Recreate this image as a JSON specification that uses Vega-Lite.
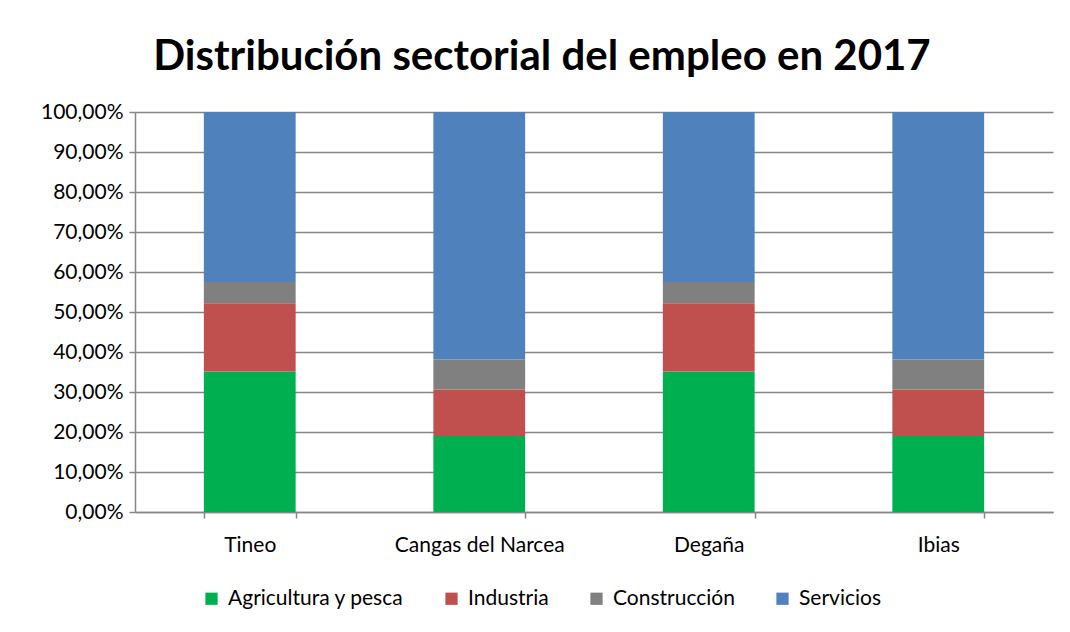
{
  "$schema": "https://vega.github.io/schema/vega-lite/v6.json",
  "width": 918,
  "height": 400,
  "padding": {"left": 40, "top": 36, "right": 17, "bottom": 10},
  "background": "white",
  "title": {
    "text": "Distribución sectorial del empleo en 2017",
    "font": "Lato",
    "fontSize": 42,
    "fontWeight": "bold",
    "color": "#000000",
    "anchor": "middle",
    "dx": -52,
    "offset": 22
  },
  "data": {
    "values": [
      {"zona": "Tineo", "sector": "Agricultura y pesca", "orden": 1, "valor": 0.351},
      {"zona": "Tineo", "sector": "Industria", "orden": 2, "valor": 0.171},
      {"zona": "Tineo", "sector": "Construcción", "orden": 3, "valor": 0.053},
      {"zona": "Tineo", "sector": "Servicios", "orden": 4, "valor": 0.425},
      {"zona": "Cangas del Narcea", "sector": "Agricultura y pesca", "orden": 1, "valor": 0.190},
      {"zona": "Cangas del Narcea", "sector": "Industria", "orden": 2, "valor": 0.116},
      {"zona": "Cangas del Narcea", "sector": "Construcción", "orden": 3, "valor": 0.075},
      {"zona": "Cangas del Narcea", "sector": "Servicios", "orden": 4, "valor": 0.619},
      {"zona": "Degaña", "sector": "Agricultura y pesca", "orden": 1, "valor": 0.351},
      {"zona": "Degaña", "sector": "Industria", "orden": 2, "valor": 0.171},
      {"zona": "Degaña", "sector": "Construcción", "orden": 3, "valor": 0.053},
      {"zona": "Degaña", "sector": "Servicios", "orden": 4, "valor": 0.425},
      {"zona": "Ibias", "sector": "Agricultura y pesca", "orden": 1, "valor": 0.190},
      {"zona": "Ibias", "sector": "Industria", "orden": 2, "valor": 0.116},
      {"zona": "Ibias", "sector": "Construcción", "orden": 3, "valor": 0.075},
      {"zona": "Ibias", "sector": "Servicios", "orden": 4, "valor": 0.619}
    ]
  },
  "mark": {"type": "bar"},
  "encoding": {
    "x": {
      "field": "zona",
      "type": "nominal",
      "sort": ["Tineo", "Cangas del Narcea", "Degaña", "Ibias"],
      "scale": {"paddingInner": 0.6, "paddingOuter": 0.3},
      "axis": {
        "title": null,
        "labelAngle": 0,
        "tickBand": "extent",
        "labelPadding": 16,
        "tickSize": 6,
        "grid": false
      }
    },
    "y": {
      "field": "valor",
      "type": "quantitative",
      "stack": "zero",
      "scale": {"domain": [0, 1], "nice": false},
      "axis": {
        "title": null,
        "format": ".2%",
        "values": [0, 0.1, 0.2, 0.3, 0.4, 0.5, 0.6, 0.7, 0.8, 0.9, 1],
        "tickSize": 6,
        "labelPadding": 6,
        "grid": true
      }
    },
    "color": {
      "field": "sector",
      "type": "nominal",
      "sort": ["Agricultura y pesca", "Industria", "Construcción", "Servicios"],
      "scale": {
        "domain": ["Agricultura y pesca", "Industria", "Construcción", "Servicios"],
        "range": ["#00B050", "#C0504D", "#808080", "#4F81BD"]
      },
      "legend": {
        "title": null,
        "orient": "none",
        "legendX": 66,
        "legendY": 476,
        "direction": "horizontal",
        "symbolType": "square",
        "symbolSize": 150,
        "symbolStrokeWidth": 0,
        "labelFontSize": 21,
        "labelFont": "Lato",
        "labelColor": "#000000",
        "labelLimit": 400,
        "labelOffset": 6,
        "columnPadding": 37
      }
    },
    "order": {"field": "orden", "type": "quantitative"}
  },
  "config": {
    "locale": {
      "number": {"decimal": ",", "thousands": ".", "grouping": [3], "currency": ["", " €"]}
    },
    "view": {"stroke": null},
    "axis": {
      "labelFont": "Lato",
      "labelFontSize": 21,
      "labelColor": "#000000",
      "domainColor": "#868686",
      "domainWidth": 1.5,
      "tickColor": "#868686",
      "tickWidth": 1.5,
      "gridColor": "#868686",
      "gridWidth": 1.5
    }
  }
}
